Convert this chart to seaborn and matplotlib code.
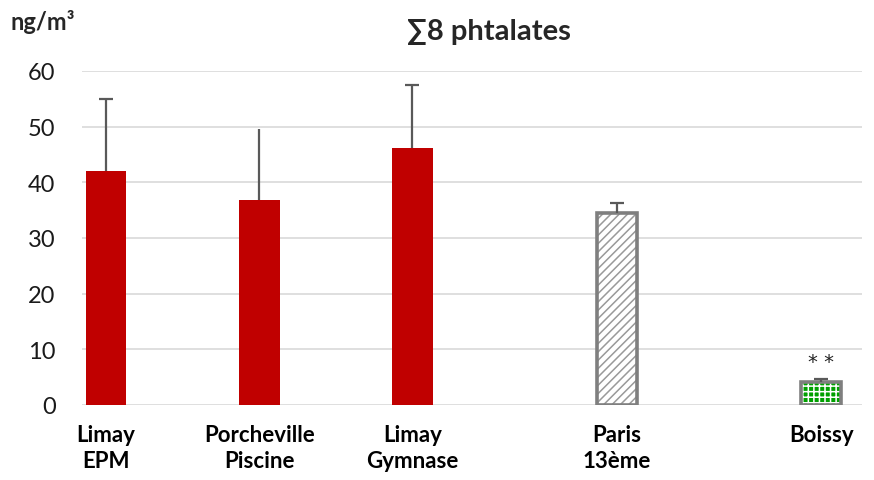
import matplotlib
matplotlib.use("Agg")
import matplotlib.pyplot as plt
import matplotlib.patches as mpatches
import seaborn as sns

# ---- data ----
sites = ["Limay\nEPM", "Porcheville\nPiscine", "Limay\nGymnase", "Paris\n13ème", "Boissy"]
values = [42.0, 36.8, 46.2, 34.5, 4.2]
errors = [13.0, 12.8, 11.3, 1.8, 0.4]
slots = [0, 3, 6, 10, 14]          # category slot along the axis
has_cap = [True, False, True, True, True]
title = "∑8 phtalates"
unit = "ng/m³"
yticks = [0, 10, 20, 30, 40, 50, 60]

sns.set_theme(style="white")
plt.rcParams["font.family"] = ["Lato", "DejaVu Sans"]
plt.rcParams["hatch.linewidth"] = 1.1

fig = plt.figure(figsize=(8.74, 4.81), dpi=100)
ax = fig.add_axes([82 / 874, 1 - 406 / 481, (862 - 82) / 874, (406 - 72) / 481])

sns.barplot(x=slots, y=values, native_scale=True, width=0.265,
            color="#C00000", saturation=1, ax=ax, zorder=3)

red = "#C00000"
gray_edge = "#7f7f7f"
bars = list(ax.patches)
for i, p in enumerate(bars):
    p.set_linewidth(0)
    if i < 3:
        p.set_facecolor(red)
        p.set_edgecolor(red)
    elif i == 3:
        p.set_facecolor("white")
        p.set_edgecolor("#999999")
        p.set_hatch("////")
    else:
        p.set_facecolor("#00A000")
        p.set_edgecolor("white")
        p.set_hatch("+++")
    if i >= 3:
        outline = mpatches.Rectangle(p.get_xy(), p.get_width(), p.get_height(),
                                     fill=False, edgecolor=gray_edge,
                                     linewidth=2.6, zorder=4)
        ax.add_patch(outline)

for x, v, e, c in zip(slots, values, errors, has_cap):
    _, caps, _ = ax.errorbar([x], [v], yerr=[[0], [e]], fmt="none", ecolor="#595959",
                             elinewidth=1.6, capsize=5 if c else 0, capthick=1.6,
                             zorder=5)
    if caps:
        caps[0].set_visible(False)   # no cap at the bar top

ax.annotate("* *", xy=(slots[4], values[4] + errors[4]), xytext=(0, 6),
            textcoords="offset points", ha="center", va="bottom",
            fontsize=14, family=["DejaVu Sans"], color="#222222")

ax.set_ylim(0, 60)
ax.set_xlim(-0.47, 14.8)
ax.set_yticks(yticks)
ax.set_yticklabels([str(t) for t in yticks], fontsize=17, color="#1a1a1a")
ax.set_xticks(slots)
ax.set_xticklabels(sites, fontsize=16, fontweight="bold", color="black", linespacing=1.25)
ax.tick_params(axis="y", length=0, pad=19)
ax.tick_params(axis="x", length=0, pad=14)
ax.yaxis.grid(True, color="#d9d9d9", linewidth=1.2, zorder=0)
ax.xaxis.grid(False)
ax.set_axisbelow(True)
for s in ax.spines.values():
    s.set_visible(False)
ax.set_xlabel("")
ax.set_ylabel("")

fig.text(489 / 874, 1 - 32 / 481, title, ha="center", va="center",
         fontsize=21, fontweight="bold", family=["Lato", "DejaVu Sans"])
fig.text(10 / 874, 1 - 22 / 481, unit, ha="left", va="center",
         fontsize=17, fontweight="bold", family=["Lato", "DejaVu Sans"])

fig.savefig("out.png", dpi=100)
